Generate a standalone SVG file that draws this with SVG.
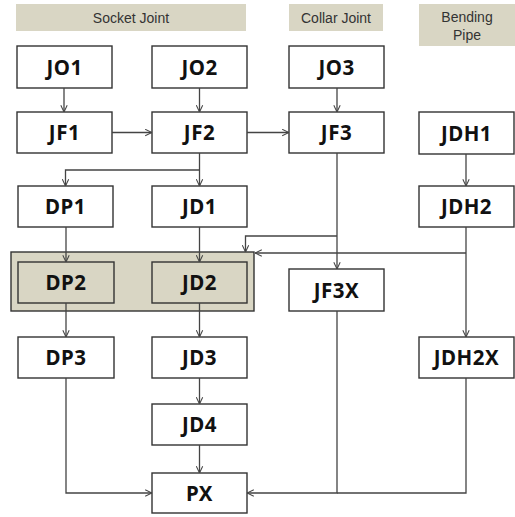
<svg xmlns="http://www.w3.org/2000/svg" width="515" height="517" viewBox="0 0 515 517">
<defs>
<style>
.hdr{fill:#d9d6c4}
.ht{font-family:"Liberation Sans",Arial,sans-serif;font-size:14px;fill:#333;text-anchor:middle}
.box{fill:#fff;stroke:#333;stroke-width:1.4}
.gbox{fill:#d9d6c4;stroke:#333;stroke-width:1.4}
.lbl{font-family:"Noto Sans","Liberation Sans",sans-serif;font-size:20.5px;font-weight:bold;fill:#111;text-anchor:middle;letter-spacing:0.5px}
.c{fill:none;stroke:#444;stroke-width:1.3;marker-end:url(#a)}
.n{fill:none;stroke:#444;stroke-width:1.3}
</style>
<marker id="a" viewBox="0 0 10 10" refX="9.5" refY="5" markerWidth="8" markerHeight="8" markerUnits="userSpaceOnUse" orient="auto">
<path d="M1,1 L9.5,5 L1,9" fill="none" stroke="#444" stroke-width="1.3"/>
</marker>
</defs>
<rect width="515" height="517" fill="#fff"/>
<g id="headers">
<rect class="hdr" x="16" y="4" width="230" height="27"/>
<text class="ht" x="131" y="22.5">Socket Joint</text>
<rect class="hdr" x="289" y="4" width="94" height="27"/>
<text class="ht" x="336" y="22.5">Collar Joint</text>
<rect class="hdr" x="419" y="4" width="96" height="42"/>
<text class="ht" x="467" y="22">Bending</text>
<text class="ht" x="467" y="39.5">Pipe</text>
</g>
<g id="group-DP2-JD2">
<rect class="gbox" x="11" y="252" width="243" height="59"/>
</g>
<g id="JO1"><rect class="box" x="17" y="46" width="95" height="42"/><text class="lbl" x="64.5" y="74.5">JO1</text></g>
<g id="JO2"><rect class="box" x="152" y="46" width="95" height="42"/><text class="lbl" x="199.5" y="74.5">JO2</text></g>
<g id="JO3"><rect class="box" x="289" y="46" width="95" height="42"/><text class="lbl" x="336.5" y="74.5">JO3</text></g>
<g id="JF1"><rect class="box" x="17" y="112" width="95" height="41"/><text class="lbl" x="64.5" y="140">JF1</text></g>
<g id="JF2"><rect class="box" x="152" y="112" width="95" height="41"/><text class="lbl" x="199.5" y="140">JF2</text></g>
<g id="JF3"><rect class="box" x="289" y="112" width="95" height="41"/><text class="lbl" x="336.5" y="140">JF3</text></g>
<g id="JDH1"><rect class="box" x="419" y="112" width="95" height="42"/><text class="lbl" x="466.5" y="140.5">JDH1</text></g>
<g id="DP1"><rect class="box" x="18" y="186" width="95" height="41"/><text class="lbl" x="65.5" y="214">DP1</text></g>
<g id="JD1"><rect class="box" x="152" y="186" width="95" height="41"/><text class="lbl" x="199.5" y="214">JD1</text></g>
<g id="JDH2"><rect class="box" x="419" y="186" width="95" height="41"/><text class="lbl" x="466.5" y="214">JDH2</text></g>
<g id="DP2"><rect class="gbox" x="18" y="262" width="96" height="41"/><text class="lbl" x="66" y="290">DP2</text></g>
<g id="JD2"><rect class="gbox" x="152" y="262" width="95" height="41"/><text class="lbl" x="199.5" y="290">JD2</text></g>
<g id="JF3X"><rect class="box" x="289" y="269" width="95" height="42"/><text class="lbl" x="336.5" y="297.5">JF3X</text></g>
<g id="DP3"><rect class="box" x="18" y="337" width="96" height="41"/><text class="lbl" x="66" y="365">DP3</text></g>
<g id="JD3"><rect class="box" x="152" y="337" width="95" height="41"/><text class="lbl" x="199.5" y="365">JD3</text></g>
<g id="JDH2X"><rect class="box" x="419" y="337" width="95" height="41"/><text class="lbl" x="466.5" y="365">JDH2X</text></g>
<g id="JD4"><rect class="box" x="152" y="404" width="95" height="41"/><text class="lbl" x="199.5" y="432">JD4</text></g>
<g id="PX"><rect class="box" x="152" y="473" width="95" height="40"/><text class="lbl" x="199.5" y="500.5">PX</text></g>
<g id="connectors">
<path class="c" d="M64,88 V112"/>
<path class="c" d="M199.5,88 V112"/>
<path class="c" d="M337,88 V112"/>
<path class="c" d="M112,132.5 H152"/>
<path class="c" d="M247,132.5 H289"/>
<path class="c" d="M199.5,153 V186"/>
<path class="c" d="M199.5,170 H65.5 V186"/>
<path class="c" d="M337,153 V269"/>
<path class="c" d="M337,236 H245.5 V252"/>
<path class="c" d="M466,154 V186"/>
<path class="c" d="M466,227 V337"/>
<path class="c" d="M466,253 H255"/>
<path class="c" d="M66,227 V262"/>
<path class="c" d="M199.5,227 V262"/>
<path class="c" d="M66,303 V337"/>
<path class="c" d="M199.5,303 V337"/>
<path class="c" d="M199.5,378 V404"/>
<path class="c" d="M199.5,445 V473"/>
<path class="c" d="M66,378 V493 H152"/>
<path class="c" d="M337,311 V493 H247"/>
<path class="n" d="M466,378 V493 H337"/>
</g>
</svg>
